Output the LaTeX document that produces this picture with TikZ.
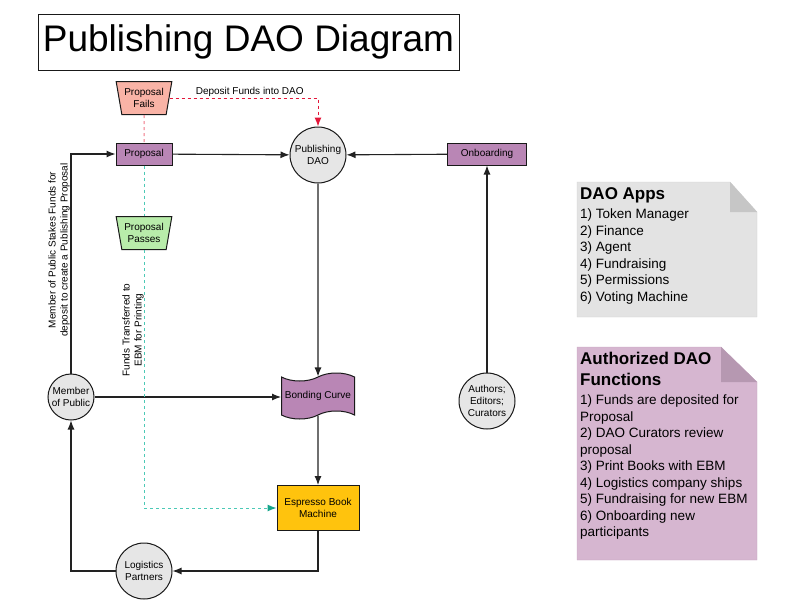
\documentclass[tikz,border=0pt]{standalone}
\usepackage{fontspec}
\setmainfont{Liberation Sans}
\usetikzlibrary{shapes.geometric,shapes.symbols,arrows.meta}
\definecolor{failsfill}{HTML}{F9B3A6}
\definecolor{passfill}{HTML}{B8ECAA}
\definecolor{propfill}{HTML}{B986B5}
\definecolor{ebmfill}{HTML}{FFC30D}
\definecolor{circfill}{HTML}{E6E6E6}
\definecolor{linegray}{HTML}{222222}
\definecolor{reddash}{HTML}{E3173A}
\definecolor{pinkdash}{HTML}{F07484}
\definecolor{tealdash}{HTML}{4CC9B6}
\definecolor{tealtip}{HTML}{16A58B}
\definecolor{appsfill}{HTML}{E3E3E3}
\definecolor{appsfold}{HTML}{C6C6C6}
\definecolor{appsedge}{HTML}{CFCFCF}
\definecolor{funcfill}{HTML}{D6B6D0}
\definecolor{funcfold}{HTML}{B698B1}
\definecolor{funcedge}{HTML}{C6A6C0}
\begin{document}
\begin{tikzpicture}[x=1pt,y=-1pt,>={Latex[length=9pt,width=7pt]},
    line/.style={draw=linegray,line width=1.1pt},
    txt/.style={font=\fontsize{10}{12}\selectfont,align=center},
    box/.style={txt,draw=black!90,line width=1pt,inner sep=1pt},
    circ/.style={box,circle,fill=circfill,minimum size=56pt,inner sep=0pt},
    trap/.style={box,trapezium,shape border rotate=180,trapezium angle=76,trapezium stretches=true,minimum width=56pt,minimum height=33pt},
    notetitle/.style={anchor=north west,inner sep=0pt,align=left,font=\fontsize{17}{21}\selectfont\bfseries},
    notelist/.style={anchor=north west,inner sep=0pt,align=left,font=\fontsize{13.5}{16.5}\selectfont}]
  \useasboundingbox (0,0) rectangle (794,613);

  \node[draw=black!90,line width=1pt,minimum width=421pt,minimum height=56pt,font=\fontsize{37}{40}\selectfont] (title) at (248.5,42) {Publishing DAO Diagram};

  \node[trap,fill=failsfill] (fails) at (144,98) {Proposal\\Fails};
  \node[box,fill=propfill,minimum width=56pt,minimum height=22pt] (prop) at (144,154) {Proposal};
  \node[trap,fill=passfill] (pass) at (144,233) {Proposal\\Passes};
  \node[circ] (dao) at (318,155) {Publishing\\DAO};
  \node[box,fill=propfill,minimum width=79pt,minimum height=22pt] (onb) at (487,154) {Onboarding};
  \node[circ,minimum size=46pt] (mop) at (71,397) {Member\\of Public};
  \node[box,tape,tape bend height=8pt,fill=propfill,minimum width=73pt,minimum height=46pt] (bond) at (318,396) {Bonding Curve};
  \node[box,fill=ebmfill,minimum width=82pt,minimum height=45pt] (ebm) at (318,508) {Espresso Book\\Machine};
  \node[circ] (logi) at (144,571) {Logistics\\Partners};
  \node[circ] (auth) at (487,401) {Authors;\\Editors;\\Curators};

  \draw[line,->] (prop) -- (dao);
  \draw[line,->] (onb) -- (dao);
  \draw[line,->] (dao) -- (bond);
  \draw[line,->] (bond) -- (ebm);
  \draw[line,->] (ebm.south) |- (logi);
  \draw[line,->] (logi) -| (mop);
  \draw[line,->] (mop) |- (prop);
  \draw[line,->] (mop) -- (mop-|bond.west);
  \draw[line,->] (auth) -- (onb);
  \draw[reddash,line width=1pt,dashed,->] (fails.east) -| (dao.north) node[pos=0.27,above,txt,text=black,inner sep=1pt] {Deposit Funds into DAO};
  \draw[pinkdash,line width=1pt,dashed] (fails) -- (prop);
  \draw[tealdash,line width=1pt,dashed] (prop) -- (pass);
  \draw[tealdash,line width=1pt,dashed,-{Latex[length=9pt,width=7pt,color=tealtip]}] (pass.south) |- (ebm.west);

  \node[txt,rotate=90] (stakes) at (59,250) {Member of Public Stakes Funds for\\deposit to create a Publishing Proposal};
  \node[txt,rotate=90] (funds) at (133,330) {Funds Transferred to\\EBM for Printing};

  \filldraw[fill=appsfill,draw=appsedge] (577,182) -- (730,182) -- (757,212) -- (757,317) -- (577,317) -- cycle;
  \fill[appsfold] (730,182) -- (757,212) -- (730,212) -- cycle;
  \node[notetitle] (appsTitle) at (580,187) {DAO Apps};
  \node[notelist] (appsList) at (580,209) {1) Token Manager\\2) Finance\\3) Agent\\4) Fundraising\\5) Permissions\\6) Voting Machine};

  \filldraw[fill=funcfill,draw=funcedge] (577,347) -- (721,347) -- (757,382) -- (757,560) -- (577,560) -- cycle;
  \fill[funcfold] (721,347) -- (757,382) -- (721,382) -- cycle;
  \node[notetitle] (funcTitle) at (580,352) {Authorized DAO\\Functions};
  \node[notelist] (funcList) at (580,395) {1) Funds are deposited for\\Proposal\\2) DAO Curators review\\proposal\\3) Print Books with EBM\\4) Logistics company ships\\5) Fundraising for new EBM\\6) Onboarding new\\participants};
\end{tikzpicture}
\end{document}
